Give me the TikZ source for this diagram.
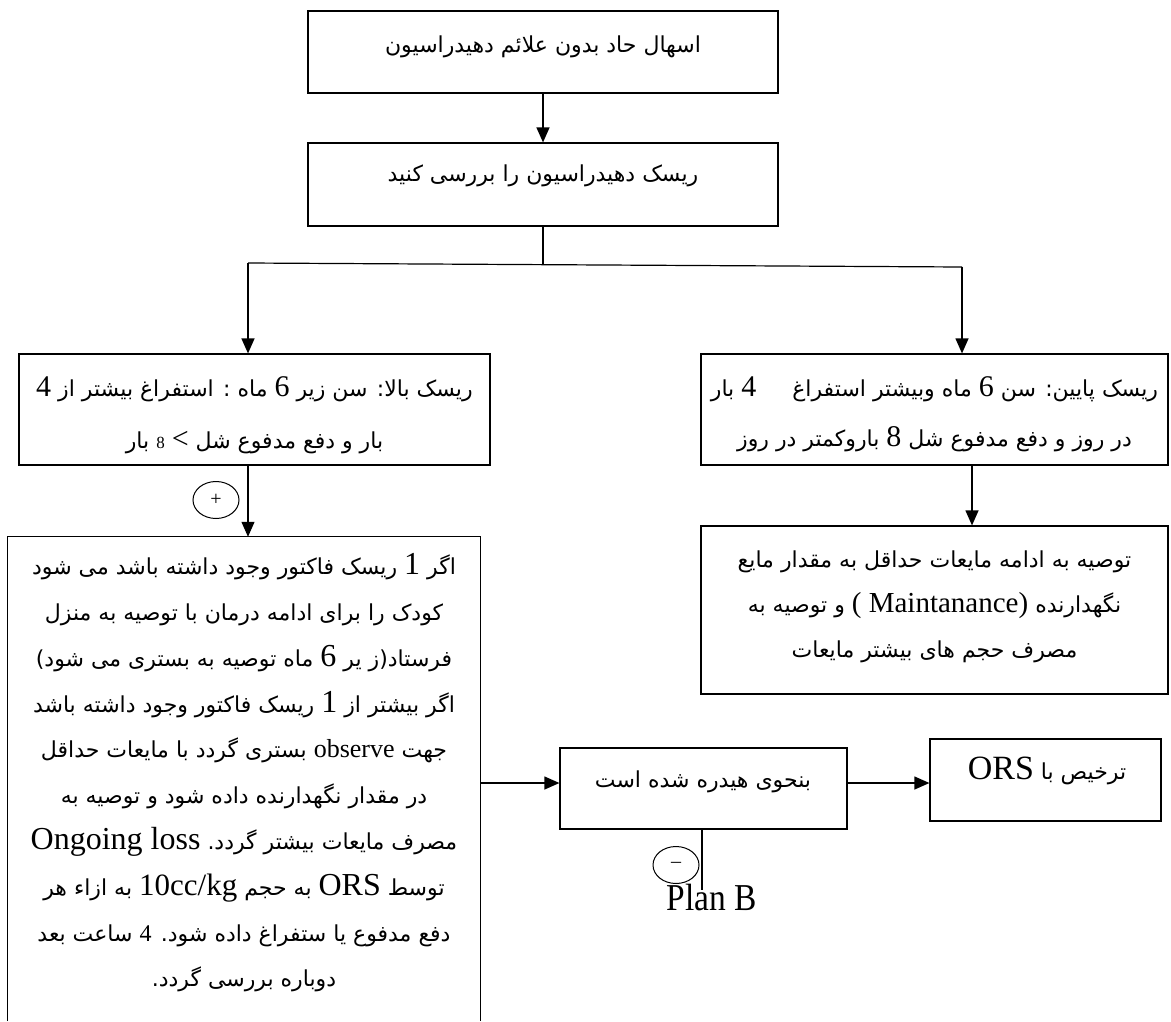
\documentclass[tikz,border=0pt]{standalone}
\usepackage{fontspec}
\setmainfont{Liberation Serif}
\newfontfamily\fa[Script=Arabic]{DejaVu Sans}
\newfontfamily\condserif[FakeStretch=0.88]{Liberation Serif}
\TeXXeTstate=1
\usetikzlibrary{shapes.geometric,arrows.meta}
\newcommand\lat[2][30]{{\rmfamily\fontsize{#1}{#1}\selectfont #2}}
\newcommand\RL[1]{\hbox{\beginR #1\endR}}
\begin{document}
\begin{tikzpicture}[x=1pt,y=-1pt,
  line/.style={line width=1.2pt},
  arr/.style={line width=1.2pt,-{Triangle[length=15pt,width=13pt]}},
  box/.style={draw,line width=1.2pt,inner sep=0pt},
  txt/.style={inner sep=0pt,align=center,font=\fa\fontsize{22}{46}\selectfont},
  sign/.style={draw,ellipse,line width=1pt,minimum width=46pt,minimum height=37pt,inner sep=0pt,font=\rmfamily\fontsize{20}{20}\selectfont}]
\useasboundingbox (0,0) rectangle (1171,1021);
% boxes
\node[box,minimum width=470pt,minimum height=82pt] (b1) at (543,52) {};
\node[txt] (t1) at (543,47) {\RL{اسهال حاد بدون علائم دهیدراسیون}};
\node[box,minimum width=470pt,minimum height=83pt] (b2) at (543,184.5) {};
\node[txt] (t2) at (543,176) {\RL{ریسک دهیدراسیون را بررسی کنید}};
\node[box,minimum width=471pt,minimum height=111pt] (hr) at (254.5,409.5) {};
\node[txt,font=\fa\fontsize{22}{52}\selectfont] (thr) at (254.5,415) {%
  \RL{ریسک بالا: سن زیر \lat{6} ماه : استفراغ بیشتر از \lat{4}}\\
  \hbox{\RL{بار} \lat[17]{8} \lat{<} \RL{بار و دفع مدفوع شل}}};
\node[box,minimum width=467pt,minimum height=111pt] (lr) at (934.5,409.5) {};
\node[txt,font=\fa\fontsize{22}{50}\selectfont] (tlr) at (934.5,414) {%
  \RL{ریسک پایین: سن \lat{6} ماه وبیشتر استفراغ \hspace{22pt} \lat{4} بار}\\
  \RL{در روز و دفع مدفوع شل \lat{8} باروکمتر در روز}};
\node[box,minimum width=467pt,minimum height=168pt] (lr2) at (934.5,610) {};
\node[txt,font=\fa\fontsize{22}{45}\selectfont] (tlr2) at (934.5,607) {%
  \RL{توصیه به ادامه مایعات حداقل به مقدار مایع}\\
  \hbox{\RL{و توصیه به} \lat[29]{( Maintanance)} \RL{نگهدارنده}}\\
  \RL{مصرف حجم های بیشتر مایعات}};
\node[minimum width=472pt,minimum height=484pt,inner sep=0pt] (big) at (244,779) {};
\draw[line] (big.south west) -- (big.north west) -- (big.north east) -- (big.south east);
\node[txt,font=\fa\fontsize{22}{45.8}\selectfont] (tbig) at (244,773) {%
  \RL{اگر \lat[32]{1} ریسک فاکتور وجود داشته باشد می شود}\\
  \RL{کودک را برای ادامه درمان با توصیه به منزل}\\
  \RL{فرستاد(ز یر \lat[32]{6} ماه توصیه به بستری می شود)}\\
  \RL{اگر بیشتر از \lat[32]{1} ریسک فاکتور وجود داشته باشد}\\
  \RL{جهت \lat[26]{observe} بستری گردد با مایعات حداقل}\\
  \RL{در مقدار نگهدارنده داده شود و توصیه به}\\
  \hbox{\lat[32]{Ongoing loss} \RL{مصرف مایعات بیشتر گردد.}}\\
  \RL{توسط \lat[32]{ORS} به حجم \lat[31]{10cc/kg} به ازاء هر}\\
  \RL{دفع مدفوع یا ستفراغ داده شود. \lat[24]{4} ساعت بعد}\\
  \RL{دوباره بررسی گردد.}};
\node[box,minimum width=287pt,minimum height=81pt] (mid) at (703.5,788.5) {};
\node[txt] (tmid) at (703,782) {\RL{بنحوی هیدره شده است}};
\node[box,minimum width=231pt,minimum height=82pt] (ors) at (1045.5,780) {};
\node[txt] (tors) at (1047,771) {\RL{ترخیص با \lat[34]{ORS}}};
% signs
\node[sign] (plus) at (216,500) {+};
\node[sign] (minus) at (676,865) {–};
\node[inner sep=0pt,font=\condserif\fontsize{38}{38}\selectfont] (planb) at (712,897) {Plan B};
% connectors
\coordinate (jl) at (248,263);
\coordinate (jr) at (962,267);
\coordinate (jm) at (543,265);
\coordinate (c3) at (972,0);
\coordinate (ma) at (0,783);
\coordinate (pb) at (702,890);
\draw[arr] (b1) -- (b2);
\draw[line] (b2.south) -- (jm);
\draw[line] (jl) -- (jr);
\draw[arr] (jl) -- (jl |- hr.north);
\draw[arr] (jr) -- (jr |- lr.north);
\draw[arr] (hr.south -| jl) -- (big.north -| jl);
\draw[arr] (lr.south -| c3) -- (lr2.north -| c3);
\draw[arr] (big.east |- ma) -- (mid.west |- ma);
\draw[arr] (mid.east |- ma) -- (ors.west |- ma);
\draw[line] (mid.south -| pb) -- (pb);
\end{tikzpicture}
\end{document}
